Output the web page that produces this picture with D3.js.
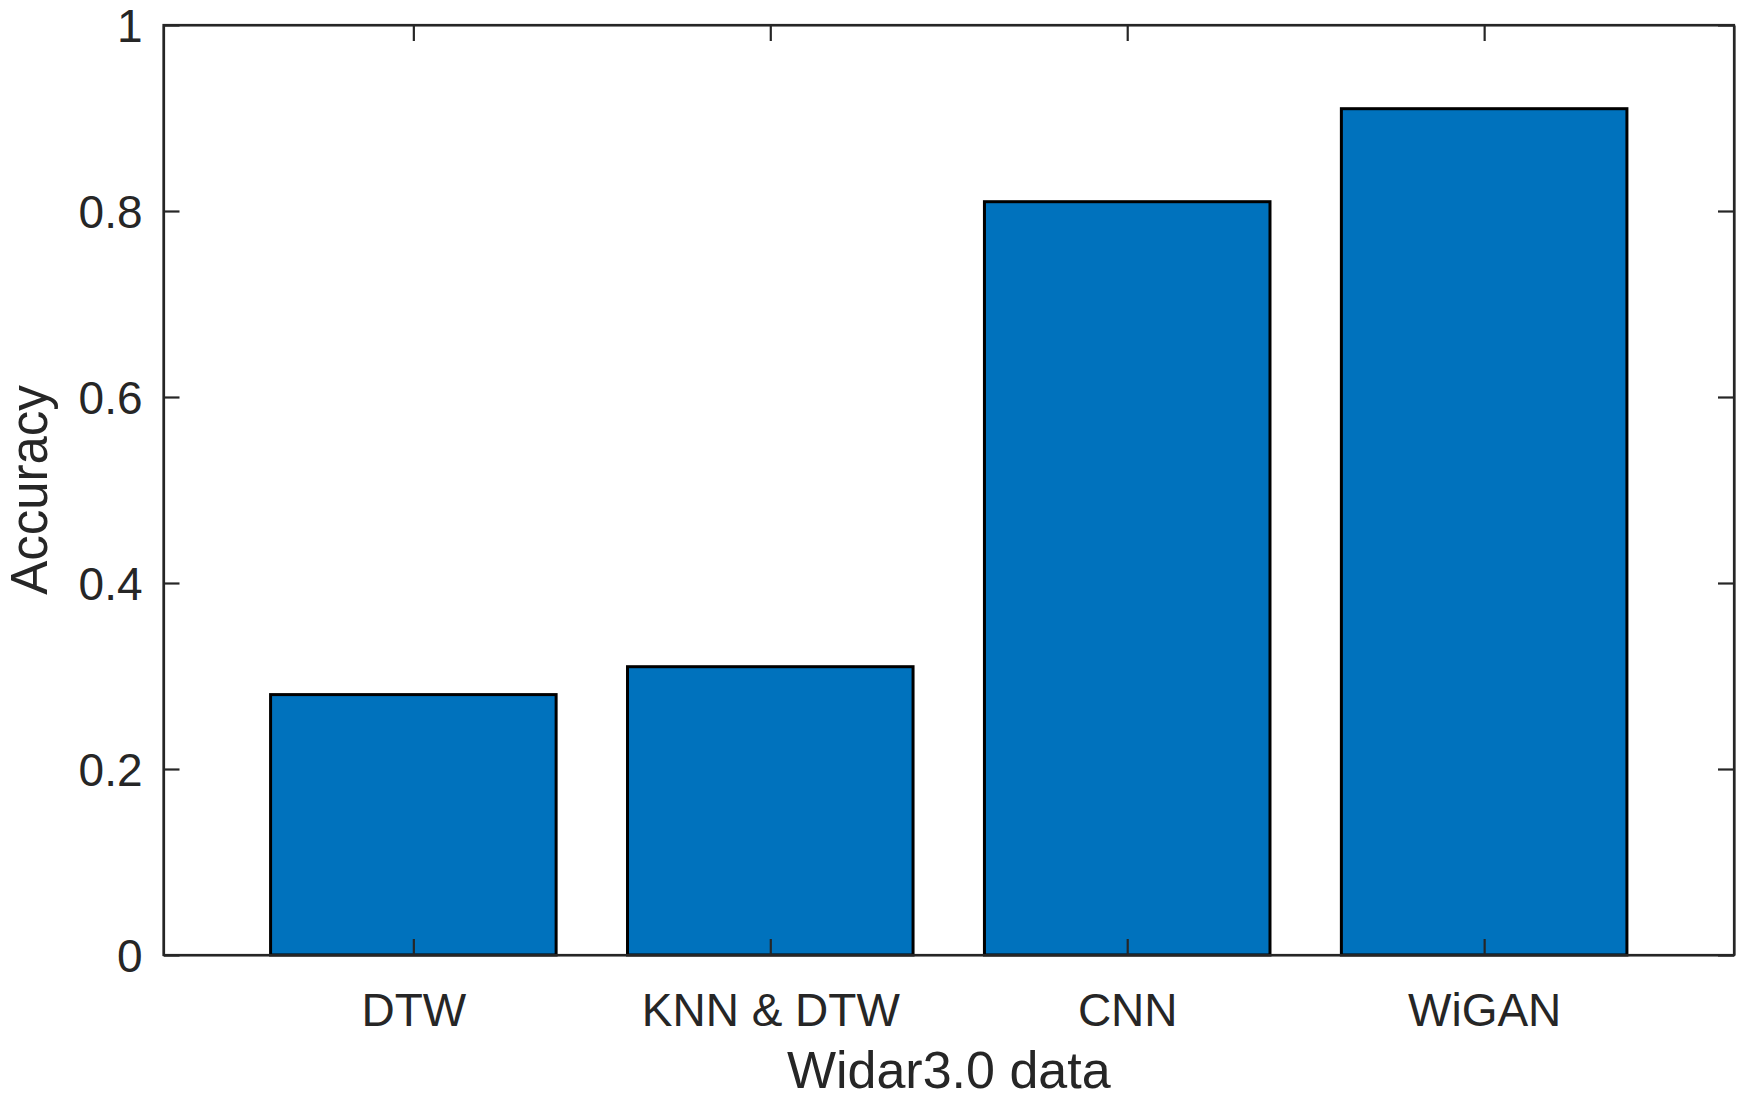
<!DOCTYPE html>
<html>
<head>
<meta charset="utf-8">
<script src="https://cdn.jsdelivr.net/npm/d3@7"></script>
<style>
html,body{margin:0;padding:0;background:#fff;}
text{font-family:"Liberation Sans",Arial,Helvetica,sans-serif;fill:#262626;}
</style>
</head>
<body>
<svg id="chart" width="1742" height="1102"></svg>
<script>
const categories = ["DTW", "KNN & DTW", "CNN", "WiGAN"];
const accuracy = [0.28, 0.31, 0.81, 0.91];
const yTicks = [0, 0.2, 0.4, 0.6, 0.8, 1];
const yTickLabels = ["0", "0.2", "0.4", "0.6", "0.8", "1"];
const xLabel = "Widar3.0 data";
const yLabel = "Accuracy";

const svg = d3.select("#chart");
const L = 163.5, R = 1734, T = 25, B = 955;
const axisColor = "#262626";
const tickLen = 16;

const x = d3.scaleLinear().domain([0.3, categories.length + 0.7]).range([L, R]);
const y = d3.scaleLinear().domain([0, 1]).range([B, T]);
const barW = 0.8;

// bars
svg.append("g").selectAll("rect").data(accuracy).join("rect")
  .attr("x", (d, i) => x(i + 1 - barW / 2))
  .attr("width", (d, i) => x(i + 1 + barW / 2) - x(i + 1 - barW / 2))
  .attr("y", d => y(d))
  .attr("height", d => y(0) - y(d))
  .attr("fill", "#0072BD")
  .attr("stroke", "#000")
  .attr("stroke-width", 3);

const xt = categories.map((c, i) => i + 1);

// bottom axis
const gB = svg.append("g").attr("transform", `translate(0,${B})`)
  .call(d3.axisBottom(x).tickValues(xt).tickFormat((d, i) => categories[i]).tickSizeInner(-tickLen).tickSizeOuter(0).tickPadding(tickLen + 32));
// top axis
const gT = svg.append("g").attr("transform", `translate(0,${T})`)
  .call(d3.axisTop(x).tickValues(xt).tickFormat("").tickSizeInner(-tickLen).tickSizeOuter(0));
// left axis
const gL = svg.append("g").attr("transform", `translate(${L},0)`)
  .call(d3.axisLeft(y).tickValues(yTicks).tickFormat((d, i) => yTickLabels[i]).tickSizeInner(-tickLen).tickSizeOuter(0).tickPadding(tickLen + 5));
// right axis
const gR = svg.append("g").attr("transform", `translate(${R},0)`)
  .call(d3.axisRight(y).tickValues(yTicks).tickFormat("").tickSizeInner(-tickLen).tickSizeOuter(0));

[gB, gT, gL, gR].forEach(g => {
  g.selectAll(".domain").attr("stroke", axisColor).attr("stroke-width", 2.2);
  g.selectAll(".tick line").attr("stroke", axisColor).attr("stroke-width", 2.2);
  g.selectAll("text").attr("font-size", 46).attr("fill", axisColor)
    .style("font-family", '"Liberation Sans", Arial, sans-serif');
});
gB.selectAll("text").attr("dy", null)
  .attr("y", 1026 - B).attr("dominant-baseline", "alphabetic");
gL.selectAll("text").attr("dy", "0.35em");

// frame box
svg.append("rect").attr("x", L).attr("y", T).attr("width", R - L).attr("height", B - T)
  .attr("fill", "none").attr("stroke", axisColor).attr("stroke-width", 2.2);

// axis labels
svg.append("text").attr("x", (L + R) / 2).attr("y", 1088)
  .attr("text-anchor", "middle").attr("font-size", 52).text(xLabel);
svg.append("text").attr("transform", `translate(47,${(T + B) / 2}) rotate(-90)`)
  .attr("text-anchor", "middle").attr("font-size", 51).text(yLabel);
</script>
</body>
</html>
